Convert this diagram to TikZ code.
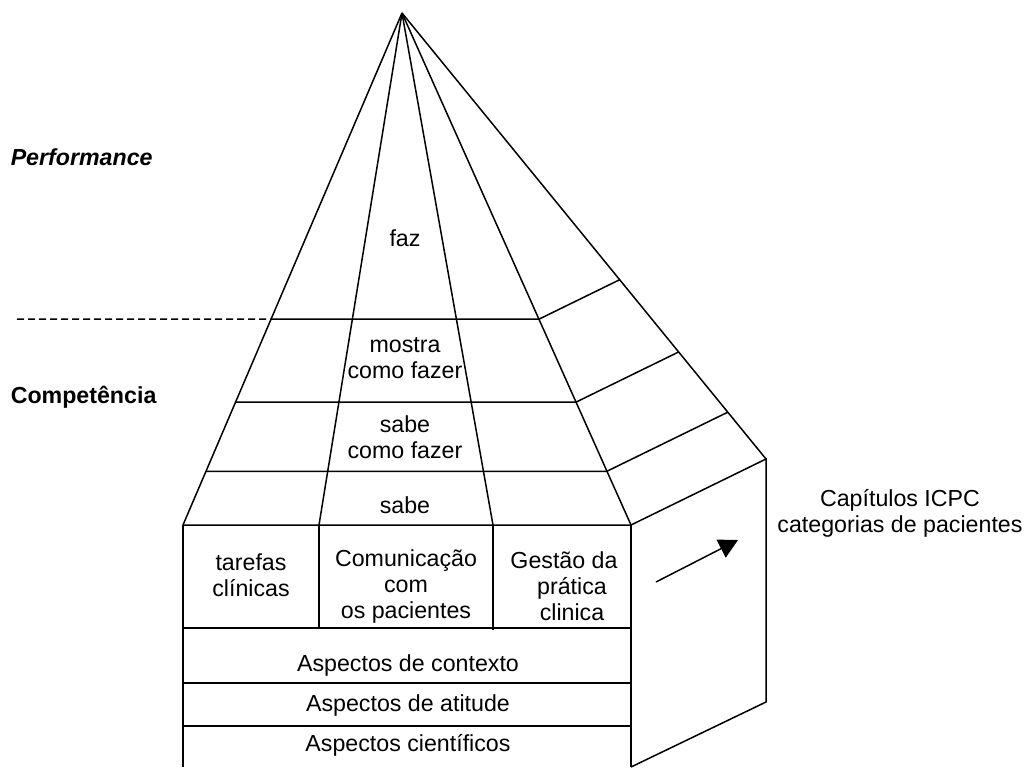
\documentclass[tikz,border=0pt]{standalone}
\usepackage{fontspec}
\setmainfont{Liberation Sans}
\usetikzlibrary{arrows.meta,calc}

\begin{document}
\begin{tikzpicture}[x=0.5pt,y=-0.5pt,line width=0.75pt,
        lbl/.style={align=center,inner sep=0pt,font=\fontsize{11.6}{13}\selectfont},
        side/.style={anchor=west,inner sep=0pt,font=\fontsize{11.6}{13}\selectfont\bfseries}]
    \useasboundingbox (0,0) rectangle (1029,767);
    \coordinate (apex) at (402,13);
    \coordinate (bl) at (183,525);
    \coordinate (il) at (319,525);
    \coordinate (ir) at (493,525);
    \coordinate (br) at (631,525);
    \coordinate (far) at (766,459);
    \coordinate (farb) at (766,702);
    \coordinate (bbl) at (183,767);
    \coordinate (bbr) at (631,767);
    \coordinate (dash) at (17,319);

    \draw (apex) -- (bl);
    \draw (apex) -- (il);
    \draw (apex) -- (ir);
    \draw (apex) -- (br);
    \draw (apex) -- (far);
    \foreach \t in {0.598,0.760,0.895}{
        \draw ($(apex)!\t!(bl)$) -- ($(apex)!\t!(br)$) -- ($(apex)!\t!(far)$);
    }
    \draw[dash pattern=on 3.5pt off 2pt] (dash) -- ($(apex)!0.598!(bl)$);

    \draw (bl) -- (br) -- (far) -- (farb) -- (bbr);
    \draw (bl) -- (bbl);
    \draw (br) -- (bbr);
    \draw (il) -- (319,628);
    \draw (ir) -- (493,630);
    \foreach \y in {628,683,726}{
        \draw (183,\y) -- (631,\y);
    }
    \coordinate (arrs) at (656,582);
    \coordinate (arre) at (738,540);
    \draw[-{Triangle[length=9.5pt,width=10pt]}] (arrs) -- (arre);

    \node[side,font=\fontsize{11.6}{13}\selectfont\bfseries\itshape] (performance) at (10,157) {Performance};
    \node[side] (competencia) at (10,397) {Competência};
    \node[lbl] (faz) at (405,238) {faz};
    \node[lbl] (mostra) at (405,358) {mostra\\como fazer};
    \node[lbl] (sabecomo) at (405,437) {sabe\\como fazer};
    \node[lbl] (sabe) at (405,505) {sabe};
    \node[lbl] (tarefas) at (251,575) {tarefas\\clínicas};
    \node[lbl] (comunicacao) at (406,586) {Comunicação\\com\\os pacientes};
    \node[lbl] (gestao) at (564,586) {Gestão da\\\hspace*{8pt}prática\\\hspace*{8pt}clinica};
    \node[lbl] (contexto) at (408,665) {Aspectos de contexto};
    \node[lbl] (atitude) at (408,705) {Aspectos de atitude};
    \node[lbl] (cientificos) at (408,745) {Aspectos científicos};
    \node[lbl] (capitulos) at (900,513) {Capítulos ICPC\\categorias de pacientes};
\end{tikzpicture}
\end{document}
